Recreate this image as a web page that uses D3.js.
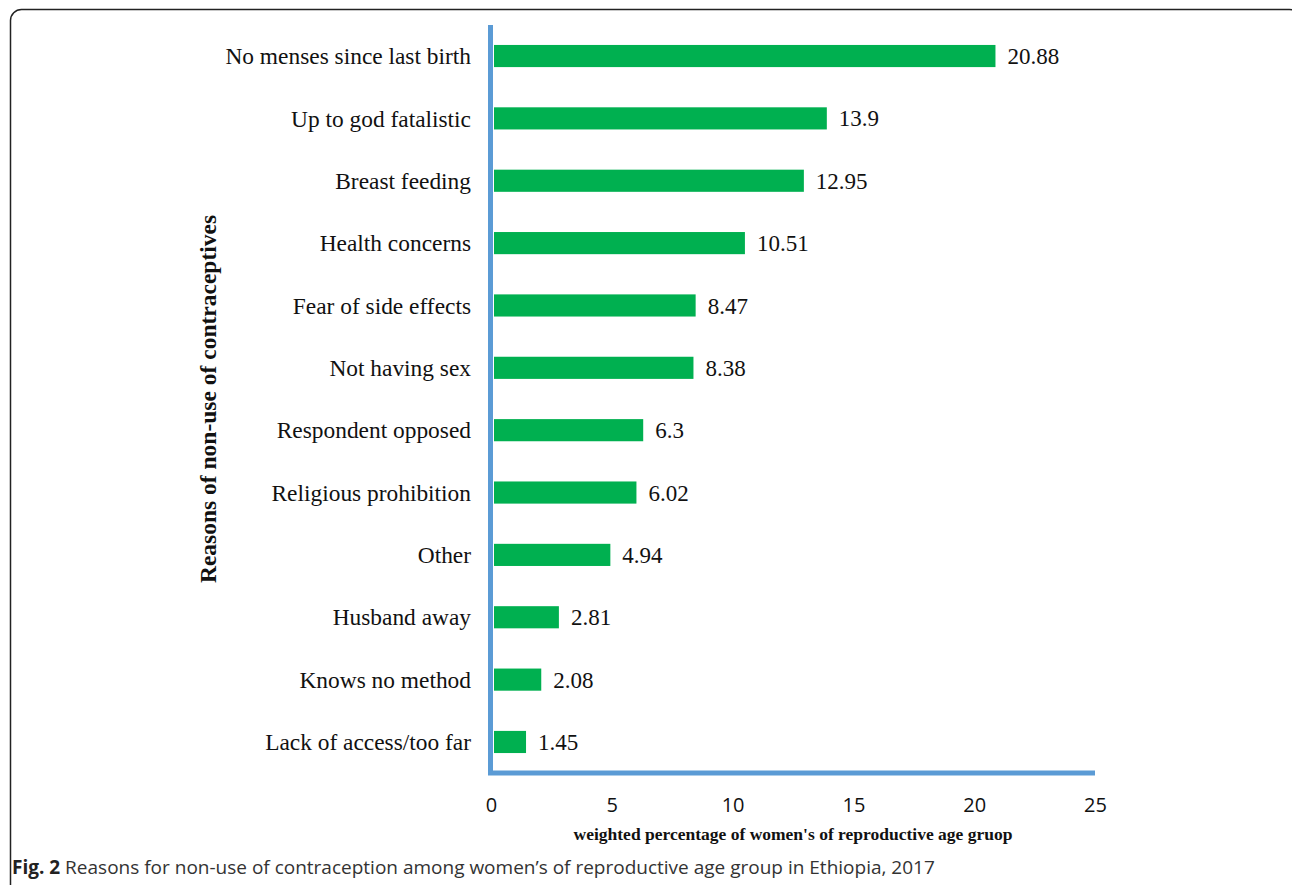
<!DOCTYPE html>
<html>
<head>
<meta charset="utf-8">
<script src="https://cdn.jsdelivr.net/npm/d3@7"></script>
<style>
  body { margin: 0; background: #fff; }
  svg { display: block; }
</style>
</head>
<body>
<div id="chart"></div>
<script>
// reasons, top to bottom as drawn
const reasons = [
  'No menses since last birth',
  'Up to god fatalistic',
  'Breast feeding',
  'Health concerns',
  'Fear of side effects',
  'Not having sex',
  'Respondent opposed',
  'Religious prohibition',
  'Other',
  'Husband away',
  'Knows no method',
  'Lack of access/too far'
]
const percents = [20.88, 13.9, 12.95, 10.51, 8.47, 8.38, 6.3, 6.02, 4.94, 2.81, 2.08, 1.45]
const valueLabels = ['20.88', '13.9', '12.95', '10.51', '8.47', '8.38', '6.3', '6.02', '4.94', '2.81', '2.08', '1.45']
const xTicks = [0, 5, 10, 15, 20, 25]

const width = 1292
const height = 885
const serif = '"Liberation Serif", "Times New Roman", serif'
const sans = '"Open Sans", "Noto Sans", sans-serif'

const svg = d3.select('#chart').append('svg')
  .attr('width', width)
  .attr('height', height)

// figure frame (rounded top, open at the bottom)
svg.append('rect')
  .attr('x', 10.5).attr('y', 9.5)
  .attr('width', 1290).attr('height', 900)
  .attr('rx', 11)
  .attr('fill', 'none')
  .attr('stroke', '#222')
  .attr('stroke-width', 1.5)

const x = d3.scaleLinear().domain([0, 25]).range([491, 1095])
const y = d3.scaleBand().domain(reasons).range([25, 773]).paddingInner(0.645).paddingOuter(0.32)

// bars
svg.append('g').selectAll('rect')
  .data(reasons)
  .enter()
  .append('rect')
    .attr('x', x(0) + 3)
    .attr('y', d => y(d))
    .attr('width', (d, i) => x(percents[i]) - x(0) - 3)
    .attr('height', y.bandwidth())
    .attr('fill', '#00B050')

// value labels
svg.append('g').selectAll('text')
  .data(reasons)
  .enter()
  .append('text')
    .attr('x', (d, i) => x(percents[i]) + 12)
    .attr('y', d => y(d) + y.bandwidth() / 2)
    .attr('dy', '0.35em')
    .style('font-family', serif)
    .style('font-size', '23px')
    .attr('fill', '#111')
    .text((d, i) => valueLabels[i])

// category labels
svg.append('g').selectAll('text')
  .data(reasons)
  .enter()
  .append('text')
    .attr('x', 471)
    .attr('y', d => y(d) + y.bandwidth() / 2)
    .attr('dy', '0.35em')
    .attr('text-anchor', 'end')
    .style('font-family', serif)
    .style('font-size', '23.4px')
    .attr('fill', '#111')
    .text(d => d)

// axis lines (thick blue)
svg.append('line')
  .attr('x1', x(0) - 0.5).attr('x2', x(0) - 0.5)
  .attr('y1', 25).attr('y2', 775)
  .attr('stroke', '#5B9BD5').attr('stroke-width', 5)
svg.append('line')
  .attr('x1', x(0) - 3).attr('x2', x(25))
  .attr('y1', 773).attr('y2', 773)
  .attr('stroke', '#5B9BD5').attr('stroke-width', 5)

// x tick labels via d3 axis, with the domain and tick lines hidden
const xAxis = svg.append('g')
  .attr('transform', 'translate(0,798)')
  .call(d3.axisBottom(x).tickValues(xTicks).tickSize(0).tickPadding(0))
xAxis.select('.domain').remove()
xAxis.selectAll('text')
  .style('font-family', sans)
  .style('font-size', '20px')
  .attr('fill', '#111')

// axis titles
svg.append('text')
  .attr('x', 793).attr('y', 840)
  .attr('text-anchor', 'middle')
  .style('font-family', serif)
  .style('font-size', '17.5px')
  .style('font-weight', 'bold')
  .attr('fill', '#111')
  .text("weighted percentage of women's of reproductive age gruop")

svg.append('text')
  .attr('transform', 'translate(216,399) rotate(-90)')
  .attr('text-anchor', 'middle')
  .style('font-family', serif)
  .style('font-size', '23.5px')
  .style('font-weight', 'bold')
  .attr('fill', '#111')
  .text('Reasons of non-use of contraceptives')

// caption
const caption = svg.append('text')
  .attr('x', 12).attr('y', 874)
  .style('font-family', sans)
  .style('font-size', '19px')
  .attr('fill', '#333')
caption.append('tspan').style('font-weight', 'bold').attr('fill', '#222').text('Fig. 2')
caption.append('tspan').text(' Reasons for non-use of contraception among women\u2019s of reproductive age group in Ethiopia, 2017')
</script>
</body>
</html>
